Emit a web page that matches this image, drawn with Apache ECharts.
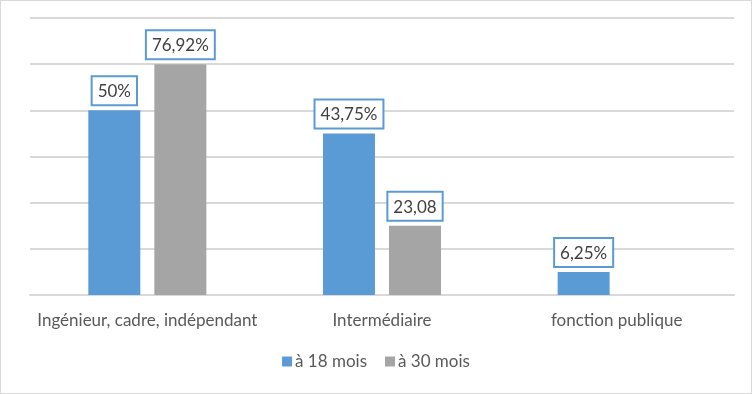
<!DOCTYPE html>
<html>
<head>
<meta charset="utf-8">
<script src="https://cdn.jsdelivr.net/npm/echarts@6/dist/echarts.min.js"></script>
<style>
html,body{margin:0;padding:0;background:#fff;}
#c{width:750px;height:392px;border:1px solid #d9d9d9;}
</style>
</head>
<body>
<div id="c"></div>
<script>
const categories = ['Ingénieur, cadre, indépendant', 'Intermédiaire', 'fonction publique'];
const seriesNames = ['à 18 mois', 'à 30 mois'];
const counts18 = [8, 7, 1];
const counts30 = [10, 3, null];
const labels18 = ['50%', '43,75%', '6,25%'];
const labels30 = ['76,92%', '23,08', ''];

const font = 'Lato, "Open Sans", sans-serif';
const labelStyle = (arr) => ({
  show: true,
  position: 'top',
  distance: 6,
  formatter: p => arr[p.dataIndex],
  color: '#404040',
  fontSize: 17,
  fontFamily: font,
  backgroundColor: '#fff',
  borderColor: '#5b9bd5',
  borderWidth: 2,
  padding: [6, 5, 4, 5]
});

const chart = echarts.init(document.getElementById('c'));
chart.setOption({
  animation: false,
  grid: { left: 29, right: 17, top: 17, bottom: 98 },
  legend: {
    bottom: 18,
    left: 'center',
    itemWidth: 10,
    itemHeight: 10,
    itemGap: 18,
    icon: 'rect',
    textStyle: { color: '#595959', fontSize: 17, fontFamily: font, padding: [0, 0, 0, -2] },
    data: seriesNames
  },
  xAxis: {
    type: 'category',
    data: categories,
    axisTick: { show: false },
    axisLine: { lineStyle: { color: '#d9d9d9', width: 2 } },
    axisLabel: { color: '#595959', fontSize: 17, fontFamily: font, margin: 17, interval: 0 }
  },
  yAxis: {
    type: 'value',
    min: 0,
    max: 12,
    interval: 2,
    axisLabel: { show: false },
    axisLine: { show: false },
    axisTick: { show: false },
    splitLine: { lineStyle: { color: '#d9d9d9', width: 2 } }
  },
  series: [
    {
      name: seriesNames[0],
      type: 'bar',
      data: counts18,
      barWidth: 52,
      barGap: '27%',
      itemStyle: { color: '#5b9bd5' },
      label: labelStyle(labels18)
    },
    {
      name: seriesNames[1],
      type: 'bar',
      data: counts30,
      barWidth: 52,
      itemStyle: { color: '#a5a5a5' },
      label: labelStyle(labels30)
    }
  ]
});
</script>
</body>
</html>
